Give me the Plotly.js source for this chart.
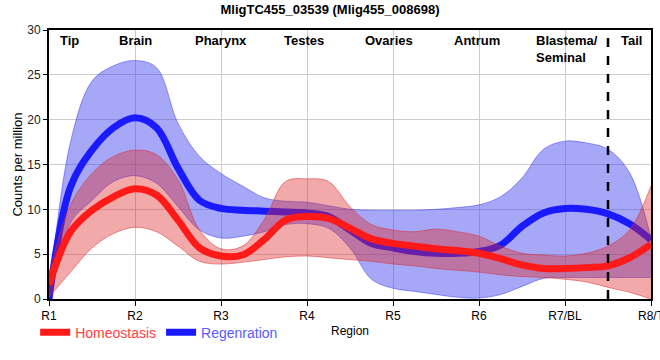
<!DOCTYPE html>
<html>
<head>
<meta charset="utf-8">
<script src="https://cdn.plot.ly/plotly-3.0.1.min.js"></script>
<style>html,body{margin:0;padding:0;background:#fff}#chart{width:660px;height:360px}</style>
</head>
<body>
<div id="chart"></div>
<script>
// Sample positions along the body axis (0 = R1 ... 7 = R8/T)
const pos = [0,0.25,0.5,0.75,1,1.25,1.5,1.75,2,2.25,2.5,2.75,3,3.25,3.5,3.75,4,4.25,4.5,4.75,5,5.25,5.5,5.75,6,6.25,6.5,6.75,7];
const regionTicks = [0,1,2,3,4,5,6,7];
const regionTickText = ['R1','R2','R3','R4','R5','R6','R7/BL','R8/T'];

const homeoMean  = [1.6,7.5,9.9,11.4,12.3,11.6,8.8,5.7,4.8,4.9,6.6,8.8,9.2,9.0,7.9,6.7,6.2,5.9,5.6,5.4,5.1,4.5,3.8,3.4,3.4,3.5,3.7,4.6,6.1];
const homeoUpper = [2.8,10.5,14.0,15.9,16.6,16.1,13.3,7.7,5.6,5.9,8.8,13.1,13.4,13.1,10.3,8.3,7.7,7.5,7.8,7.5,7.0,5.9,5.1,4.9,4.8,5.1,5.9,7.7,12.6];
const homeoLower = [0.2,3.0,5.7,7.3,8.0,7.5,5.9,4.2,3.9,4.1,4.4,4.7,4.8,4.6,4.4,4.2,3.9,3.7,3.4,3.2,3.0,2.7,2.5,2.4,2.2,1.9,1.3,0.75,0.0];

const regenMean  = [0.0,12.5,16.6,19.1,20.2,19.1,14.6,11.0,10.1,9.9,9.8,9.7,9.6,9.2,7.7,6.2,5.7,5.3,5.1,5.1,5.3,6.0,8.1,9.6,10.1,10.0,9.5,8.4,6.6];
const regenUpper = [0.5,17.5,24.3,26.0,26.6,25.8,19.6,15.9,14.0,12.6,11.3,10.9,10.8,10.4,10.0,9.9,9.9,9.9,10.0,10.2,10.5,11.4,13.5,16.7,17.6,17.4,16.7,14.1,6.8];
const regenLower = [0.0,8.5,11.0,13.1,13.75,12.9,10.3,7.7,6.8,7.0,7.5,8.3,8.4,7.9,5.7,2.2,1.2,0.85,0.5,0.2,0.1,0.5,1.4,2.3,2.4,2.4,2.4,2.4,2.4];

const sectionNames = ['Tip','Brain','Pharynx','Testes','Ovaries','Antrum','Blastema/<br>Seminal','Tail'];
const sectionAt = [0.24,1,2,2.97,3.95,4.98,5.64,6.77];
const tailBoundary = [6.5];

const FONT = 'Liberation Sans, Arial, sans-serif';
const RED = '#ff1a1a', BLUE = '#1a1aff';
const RED_FILL = 'rgba(220,40,40,0.4)', BLUE_FILL = 'rgba(60,60,240,0.45)';

function band(lower, upper, fill, edge){
  return [
    {x: pos, y: lower, mode:'lines', line:{shape:'spline', width:1, color:edge}, showlegend:false, hoverinfo:'skip'},
    {x: pos, y: upper, mode:'lines', fill:'tonexty', fillcolor:fill, line:{shape:'spline', width:1, color:edge}, showlegend:false, hoverinfo:'skip'}
  ];
}

const traces = [
  ...band(regenLower, regenUpper, BLUE_FILL, 'rgba(60,60,240,0.5)'),
  {x: pos, y: regenMean, mode:'lines', name:'<span style="color:#5a5aff">Regenration</span>', legendrank:2,
   line:{shape:'spline', width:7, color:BLUE}},
  ...band(homeoLower, homeoUpper, RED_FILL, 'rgba(220,40,40,0.5)'),
  {x: pos, y: homeoMean, mode:'lines', name:'<span style="color:#ff4040">Homeostasis</span>', legendrank:1,
   line:{shape:'spline', width:7, color:RED}}
];

const annotations = sectionNames.map((t,i)=>({
  x: sectionAt[i], xref:'x', y:1, yref:'paper', yanchor:'top', yshift:-1,
  xanchor: t.indexOf('<br>')>=0 ? 'left' : 'center', align:'left',
  text:'<b>'+t+'</b>', showarrow:false, font:{family:FONT, size:13, color:'#000'}
}));

const shapes = tailBoundary.map(v=>({
  type:'line', xref:'x', yref:'paper', x0:v, x1:v, y0:0, y1:1,
  line:{color:'#000', width:2.5, dash:'dash'}
}));

const layout = {
  width:660, height:360,
  margin:{l:49, r:9, t:30, b:61},
  paper_bgcolor:'#fff', plot_bgcolor:'#fff',
  font:{family:FONT, size:12, color:'#000'},
  title:{text:'MligTC455_03539 (Mlig455_008698)', x:0.5, xref:'container', y:0.975, yanchor:'middle',
         font:{family:FONT, size:13, weight:'bold', color:'#000'}},
  xaxis:{range:[0,7], tickvals:regionTicks, ticktext:regionTickText, showgrid:true, gridcolor:'#cccccc', gridwidth:1,
         zeroline:false, showline:true, linecolor:'#000', linewidth:2, mirror:true,
         ticks:'outside', ticklen:5, tickcolor:'#000', tickwidth:1, ticklabeloverflow:'allow',
         tickfont:{family:FONT, size:12, color:'#000'},
         title:{text:'Region', font:{family:FONT, size:12, color:'#000'}, standoff:4}},
  yaxis:{range:[0,30], dtick:5, showgrid:true, gridcolor:'#cccccc', gridwidth:1,
         zeroline:false, showline:true, linecolor:'#000', linewidth:2, mirror:true,
         ticks:'outside', ticklen:4, tickcolor:'#000', tickwidth:1,
         tickfont:{family:FONT, size:12, color:'#222'},
         title:{text:'Counts per million', font:{family:FONT, size:13, color:'#000'}, standoff:2}},
  legend:{orientation:'h', x:-0.023, xanchor:'left', y:-0.125, yanchor:'middle',
          font:{family:FONT, size:14}, bgcolor:'rgba(0,0,0,0)', traceorder:'normal'},
  annotations: annotations,
  shapes: shapes,
  showlegend:true
};

Plotly.newPlot('chart', traces, layout, {staticPlot:true, displayModeBar:false});
</script>
</body>
</html>
